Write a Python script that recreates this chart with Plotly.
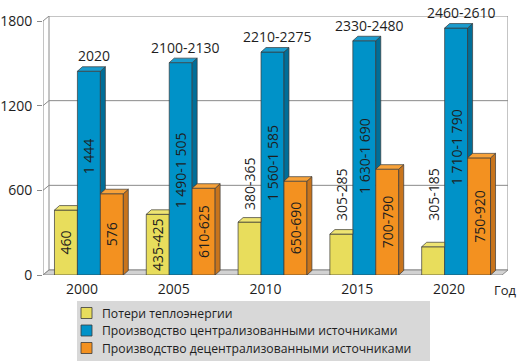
import plotly.graph_objects as go

# ---------------- data ----------------
years = ["2000", "2005", "2010", "2015", "2020"]
loss = [460, 430, 375, 290, 200]
central = [1444, 1505, 1580, 1660, 1750]
decentral = [576, 615, 665, 750, 830]
loss_labels = ["460", "435-425", "380-365", "305-285", "305-185"]
central_labels = ["1 444", "1 490-1 505", "1 560-1 585", "1 630-1 690", "1 710-1 790"]
total_labels = ["2020", "2100-2130", "2210-2275", "2330-2480", "2460-2610"]
decentral_labels = ["576", "610-625", "650-690", "700-790", "750-920"]
y_ticks = [0, 600, 1200, 1800]
series_names = ["Потери теплоэнергии",
                "Производство централизованными источниками",
                "Производство децентрализованными источниками"]

# ---------------- styling / geometry ----------------
W, H = 519, 363
ML, MR, MT, MB = 43, 11, 16, 88
PX_X = 91.8              # pixels per category
PX_Y = 254 / 1800        # pixels per unit
XMAX = (W - ML - MR) / PX_X
YMAX = (H - MT - MB) / PX_Y
WDX, WDY = 6 / PX_X, 5 / PX_Y        # wall depth
BDX, BDY = 5 / PX_X, 4.5 / PX_Y      # bar depth
BW = 0.25
FONT = "Open Sans"
TXT = "#1e1e1e"
EDGE = "#3a3a3a"
GRID = "#8a8a8a"

c_front = ["#E8DD5C", "#0092C8", "#F39120"]
c_top = ["#EEE472", "#1A9CCE", "#F7A23A"]
c_side = ["#BFB544", "#006E98", "#C8741C"]

centers = [i + 0.5 for i in range(len(years))]
offsets = [-0.375, -0.125, 0.125]


def px_x(p):
    return (p - ML) / (W - ML - MR)


def px_y(p):
    return (H - MB - p) / (H - MT - MB)


fig = go.Figure()

# front faces (bars)
vals = [loss, central, decentral]
texts = [loss_labels, [""] * 5, decentral_labels]
tpos = [["inside" if v > 400 else "none" for v in loss], ["none"] * 5, ["inside"] * 5]
for k in range(3):
    fig.add_trace(go.Bar(
        x=centers, y=vals[k], width=BW, offset=offsets[k], name=series_names[k],
        marker=dict(color=c_front[k], line=dict(color=EDGE, width=0.7)),
        text=texts[k], textposition=tpos[k], textangle=-90,
        insidetextanchor="middle", constraintext="none",
        insidetextfont=dict(family=FONT, size=14, color=TXT),
        showlegend=False, hoverinfo="skip"))


def poly_trace(polys, color):
    xs, ys = [], []
    for p in polys:
        for (a, b) in p:
            xs.append(a)
            ys.append(b)
        xs.append(p[0][0]); ys.append(p[0][1])
        xs.append(None); ys.append(None)
    return go.Scatter(x=xs, y=ys, mode="lines", fill="toself", fillcolor=color,
                      line=dict(color=EDGE, width=0.7), showlegend=False,
                      hoverinfo="skip")


y_top, b_side, b_top, o_side, o_top = [], [], [], [], []
for i, c in enumerate(centers):
    vl, vb, vo = loss[i], central[i], decentral[i]
    xl0, xl1 = c + offsets[0], c + offsets[0] + BW
    xb0, xb1 = c + offsets[1], c + offsets[1] + BW
    xo0, xo1 = c + offsets[2], c + offsets[2] + BW
    y_top.append([(xl0, vl), (xl0 + BDX, vl + BDY), (xl1, vl + BDY), (xl1, vl)])
    b_side.append([(xb1, vo), (xb1, vb), (xb1 + BDX, vb + BDY), (xb1 + BDX, vo + BDY)])
    b_top.append([(xb0, vb), (xb0 + BDX, vb + BDY), (xb1 + BDX, vb + BDY), (xb1, vb)])
    o_side.append([(xo1, 0), (xo1, vo), (xo1 + BDX, vo + BDY), (xo1 + BDX, BDY)])
    o_top.append([(xo0, vo), (xo0 + BDX, vo + BDY), (xo1 + BDX, vo + BDY), (xo1, vo)])

fig.add_trace(poly_trace(y_top, c_top[0]))
fig.add_trace(poly_trace(b_side, c_side[1]))
fig.add_trace(poly_trace(b_top, c_top[1]))
fig.add_trace(poly_trace(o_side, c_side[2]))
fig.add_trace(poly_trace(o_top, c_top[2]))

shapes = []
# back wall gridlines and left-wall slants
for t in y_ticks:
    shapes.append(dict(type="line", xref="x", yref="y", x0=WDX, x1=XMAX, y0=t + WDY, y1=t + WDY,
                       line=dict(color=GRID, width=1), layer="below"))
    shapes.append(dict(type="line", xref="x", yref="y", x0=0, x1=WDX, y0=t, y1=t + WDY,
                       line=dict(color=GRID, width=1), layer="below"))
shapes.append(dict(type="line", xref="x", yref="y", x0=WDX, x1=WDX, y0=WDY, y1=y_ticks[-1] + WDY,
                   line=dict(color=GRID, width=1), layer="below"))
shapes.append(dict(type="line", xref="x", yref="y", x0=XMAX, x1=XMAX, y0=WDY, y1=y_ticks[-1] + WDY,
                   line=dict(color=GRID, width=1), layer="below"))
shapes.append(dict(type="line", xref="x", yref="y", x0=0, x1=0, y0=0, y1=y_ticks[-1],
                   line=dict(color=GRID, width=1), layer="below"))
# floor
nx = len(years)
shapes.append(dict(type="path", xref="x", yref="y",
                   path=f"M 0,0 L {nx},0 L {nx + WDX},{WDY} L {WDX},{WDY} Z",
                   fillcolor="#D2D2D2", line=dict(color=GRID, width=1), layer="below"))

# legend box (manual)
shapes.append(dict(type="rect", xref="paper", yref="paper", x0=px_x(77), x1=px_x(430),
                   y0=px_y(361), y1=px_y(301), fillcolor="#D8D8D8", line=dict(width=0)))
annotations = []
row_y = [313, 330.5, 348]
for k in range(3):
    shapes.append(dict(type="rect", xref="paper", yref="paper", x0=px_x(81), x1=px_x(92),
                       y0=px_y(row_y[k] + 5.5), y1=px_y(row_y[k] - 5.5),
                       fillcolor=c_front[k], line=dict(color=EDGE, width=0.8)))
    annotations.append(dict(xref="paper", yref="paper", x=px_x(102), y=px_y(row_y[k]),
                            text=series_names[k], showarrow=False, xanchor="left",
                            yanchor="middle", borderpad=0, borderwidth=0,
                            font=dict(family=FONT, size=12.2, color=TXT)))

# labels
for i, c in enumerate(centers):
    xb = c + offsets[1] + BW / 2
    annotations.append(dict(x=xb, y=central[i], text=total_labels[i], showarrow=False,
                            xanchor="center", yanchor="bottom", xshift=5, yshift=4,
                            font=dict(family=FONT, size=14, color=TXT)))
    annotations.append(dict(x=xb, y=central[i] * 0.68, text=central_labels[i], showarrow=False,
                            textangle=-90, xanchor="center", yanchor="top",
                            font=dict(family=FONT, size=14, color=TXT)))
    if tpos[0][i] == "none":
        xl = c + offsets[0] + BW / 2
        annotations.append(dict(x=xl, y=max(loss[i] + 72, 368), text=loss_labels[i],
                                showarrow=False, textangle=-90, xanchor="center",
                                yanchor="bottom", font=dict(family=FONT, size=14, color=TXT)))

annotations.append(dict(xref="paper", yref="paper", x=px_x(492), y=px_y(290), text="Год",
                        showarrow=False, xanchor="left", yanchor="middle",
                        font=dict(family=FONT, size=13, color=TXT)))

fig.update_layout(
    width=W, height=H, margin=dict(l=ML, r=MR, t=MT, b=MB, pad=0, autoexpand=False),
    paper_bgcolor="white", plot_bgcolor="white",
    barmode="overlay", showlegend=False,
    shapes=shapes, annotations=annotations,
    xaxis=dict(range=[0, XMAX], tickvals=centers, ticktext=years, showgrid=False,
               zeroline=False, showline=False, ticks="", ticklabelshift=-7,
               ticklabelstandoff=4, tickfont=dict(family=FONT, size=14, color=TXT),
               fixedrange=True, automargin=False),
    yaxis=dict(range=[0, YMAX], tickvals=y_ticks, showgrid=False, zeroline=False,
               showline=False, ticks="outside", ticklen=5, tickcolor=GRID,
               tickfont=dict(family=FONT, size=14, color=TXT), ticklabelstandoff=2,
               fixedrange=True, automargin=False),
)

fig.write_html("out.html", config={"displayModeBar": False},
               post_script="document.body.style.margin='0';document.body.style.overflow='hidden';")
